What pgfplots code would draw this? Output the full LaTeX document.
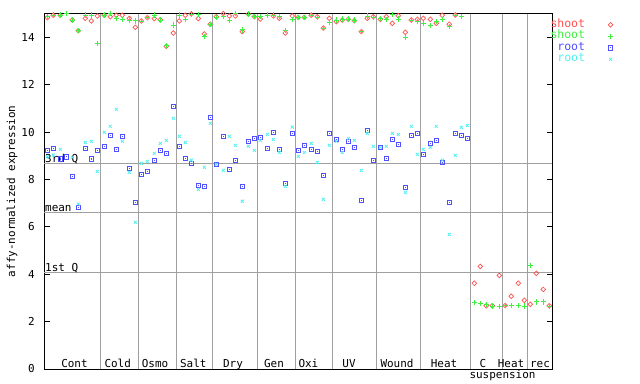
\documentclass[border=0pt]{standalone}
\usepackage{pgfplots}
\pgfplotsset{compat=1.18}
\usepackage{fontspec}
\setmainfont{DejaVu Sans Mono}
\setmonofont{DejaVu Sans Mono}
\definecolor{cRed}{RGB}{255,80,80}
\definecolor{cGreen}{RGB}{64,240,64}
\definecolor{cBlue}{RGB}{80,80,255}
\definecolor{cCyan}{RGB}{80,240,240}
\definecolor{gridgray}{RGB}{160,160,160}
\pgfdeclareplotmark{sqdot}{%
  \pgfpathrectangle{\pgfqpoint{-\pgfplotmarksize}{-\pgfplotmarksize}}{\pgfqpoint{2\pgfplotmarksize}{2\pgfplotmarksize}}%
  \pgfusepathqstroke
  \pgfpathrectangle{\pgfqpoint{-0.6pt}{-0.6pt}}{\pgfqpoint{1.2pt}{1.2pt}}%
  \pgfusepathqfill
}
\pgfplotstableread{
x y
47.3 14.83
53.3 14.93
60.3 14.93
72.3 14.73
78.3 14.28
85.3 14.80
91.3 14.69
97.3 14.90
104.3 14.93
110.3 14.87
116.3 14.93
122.3 14.93
129.3 14.80
135.3 14.42
141.3 14.69
147.3 14.83
154.3 14.79
160.3 14.74
166.3 13.62
173.3 14.18
179.3 14.69
185.3 14.93
191.3 14.99
198.3 14.79
204.3 14.14
210.3 14.55
216.3 14.87
223.3 15.00
229.3 14.90
235.3 14.90
242.3 14.24
248.3 14.98
254.3 14.87
260.3 14.77
273.3 14.90
279.3 14.80
285.3 14.18
292.3 14.90
298.3 14.84
304.3 14.84
311.3 14.93
317.3 14.87
323.3 14.39
329.3 14.80
336.3 14.66
342.3 14.73
348.3 14.76
354.3 14.70
361.3 14.24
367.3 14.80
373.3 14.87
380.3 14.76
386.3 14.87
392.3 14.59
398.3 14.91
405.3 14.21
411.3 14.73
417.3 14.76
423.3 14.80
430.3 14.76
436.3 14.59
442.3 14.93
449.3 14.55
455.3 14.94
474.3 3.62
480.3 4.33
486.3 2.67
492.3 2.67
499.3 3.95
505.3 2.68
511.3 3.07
518.3 3.62
524.3 2.90
530.3 2.73
536.3 4.04
543.3 3.36
549.3 2.67
}\shootA
\pgfplotstableread{
x y
47.3 14.86
53.3 14.94
60.3 14.94
66.3 15.00
72.3 14.73
78.3 14.28
85.3 14.94
91.3 14.94
97.3 13.74
104.3 14.94
110.3 15.00
116.3 14.80
122.3 14.76
129.3 14.73
135.3 14.69
141.3 14.66
147.3 14.83
154.3 14.94
160.3 14.73
166.3 13.65
173.3 14.52
179.3 14.94
185.3 14.76
191.3 14.95
198.3 14.97
204.3 14.04
210.3 14.55
216.3 14.85
223.3 14.90
229.3 14.73
235.3 15.00
242.3 14.31
248.3 14.98
254.3 14.87
260.3 14.87
267.3 14.94
273.3 14.94
279.3 14.87
285.3 14.27
292.3 14.76
298.3 14.84
304.3 14.84
311.3 14.94
317.3 14.84
323.3 14.39
329.3 14.63
336.3 14.73
342.3 14.77
348.3 14.77
354.3 14.73
361.3 14.24
367.3 14.90
373.3 14.83
380.3 14.80
386.3 14.76
392.3 14.97
398.3 14.77
405.3 14.00
411.3 14.73
417.3 14.67
423.3 14.59
430.3 14.49
436.3 14.67
442.3 14.76
449.3 14.45
455.3 14.93
461.3 14.87
474.3 2.81
480.3 2.77
486.3 2.73
492.3 2.66
499.3 2.65
505.3 2.67
511.3 2.68
518.3 2.68
524.3 2.66
530.3 4.37
536.3 2.83
543.3 2.83
549.3 2.66
}\shootB
\pgfplotstableread{
x y
47.3 9.23
53.3 9.31
60.3 8.86
66.3 8.96
72.3 8.13
78.3 6.82
85.3 9.31
91.3 8.86
97.3 9.23
104.3 9.40
110.3 9.86
116.3 9.27
122.3 9.82
129.3 8.47
135.3 7.03
141.3 8.22
147.3 8.34
154.3 8.81
160.3 9.23
166.3 9.10
173.3 11.08
179.3 9.40
185.3 8.89
191.3 8.68
198.3 7.75
204.3 7.71
210.3 10.62
216.3 8.64
223.3 9.82
229.3 8.43
235.3 8.81
242.3 7.71
248.3 9.61
254.3 9.73
260.3 9.77
267.3 9.31
273.3 9.99
279.3 9.27
285.3 7.83
292.3 9.94
298.3 9.23
304.3 9.44
311.3 9.27
317.3 9.19
323.3 8.17
329.3 9.94
336.3 9.69
342.3 9.27
348.3 9.61
354.3 9.35
361.3 7.12
367.3 10.07
373.3 8.81
380.3 9.35
386.3 8.89
392.3 9.69
398.3 9.48
405.3 7.67
411.3 9.86
417.3 9.94
423.3 9.06
430.3 9.52
436.3 9.65
442.3 8.72
449.3 7.03
455.3 9.94
461.3 9.86
467.3 9.73
}\rootA
\pgfplotstableread{
x y
47.3 8.96
53.3 9.03
60.3 9.27
72.3 8.93
78.3 6.96
85.3 9.56
91.3 9.61
97.3 8.34
104.3 9.99
110.3 10.24
116.3 10.96
122.3 9.61
129.3 8.30
135.3 6.19
141.3 8.68
147.3 8.76
154.3 9.10
160.3 9.52
166.3 9.65
173.3 10.58
179.3 9.82
185.3 9.56
191.3 8.81
198.3 7.58
204.3 8.51
210.3 10.37
216.3 8.64
223.3 8.38
229.3 9.82
235.3 9.44
242.3 7.08
248.3 9.40
254.3 9.23
260.3 9.65
267.3 9.90
273.3 9.69
279.3 9.14
285.3 7.71
292.3 10.21
298.3 8.97
304.3 9.14
311.3 9.52
317.3 8.72
323.3 7.16
329.3 9.44
336.3 9.61
342.3 9.14
348.3 9.73
354.3 9.65
361.3 8.38
367.3 9.94
373.3 9.40
380.3 9.35
386.3 9.40
392.3 9.94
398.3 9.90
405.3 7.45
411.3 10.24
417.3 9.06
423.3 9.27
430.3 9.35
436.3 10.24
442.3 8.81
449.3 5.68
455.3 9.02
461.3 10.20
467.3 10.28
}\rootB
\begin{document}
\begin{tikzpicture}[font=\fontsize{11}{13}\selectfont]
\path[use as bounding box] (0,0) rectangle (640bp,384bp);
\begin{axis}[
  at={(44.3bp,15bp)}, anchor=south west,
  scale only axis, width=508bp, height=355.4bp,
  xmin=44.3, xmax=552.3, ymin=0, ymax=15,
  clip=false,
  xtick=\empty, ytick={0,2,...,14},
  ytick pos=both,
  tick align=inside, major tick length=5.5bp,
  tick style={black, line width=0.8bp},
  axis line style={black, line width=0.9bp},
  /pgf/number format/assume math mode=true,
  yticklabel style={font=\fontsize{11}{13}\selectfont, inner sep=0pt, xshift=-9.5bp},
  extra x ticks={100,138.3,176.3,212.8,257.3,295.3,332.3,376.3,420.3,470.3,502.3,527.3},
  extra x tick labels={},
  extra x tick style={grid=major, major tick length=0pt},
  extra y ticks={4.08,6.61,8.68},
  extra y tick labels={},
  extra y tick style={grid=major, major tick length=0pt},
  major grid style={color=gridgray, line width=0.8bp},
  legend style={at={(axis cs:550.5,14.77)}, anchor=north west, draw=none, fill=none,
    inner sep=0pt, outer sep=0pt, column sep=23bp, row sep=0pt,
    nodes={inner sep=0pt, text height=8.2bp, text depth=3.3bp},
    font=\fontsize{11.5}{13}\selectfont},
  legend cell align=right, legend plot pos=right,
]
\addplot[only marks, mark=square, mark size=1.65bp, mark options={rotate=45, cRed, line width=0.7bp}] table {\shootA};
\addlegendentry{\textcolor{cRed}{shoot}}
\addplot[only marks, mark=+, mark size=2.6bp, mark options={cGreen, line width=0.9bp}] table {\shootB};
\addlegendentry{\textcolor{cGreen}{shoot}}
\addplot[only marks, mark=sqdot, mark size=2.2bp, mark options={cBlue, fill=cBlue, line width=0.8bp}] table {\rootA};
\addlegendentry{\textcolor{cBlue}{root}}
\addplot[only marks, mark=x, mark size=2.1bp, mark options={cCyan, line width=0.8bp}] table {\rootB};
\addlegendentry{\textcolor{cCyan}{root}}
\node[anchor=base west, inner sep=0pt] at (axis cs:45,8.68) [yshift=1bp] {3rd Q};
\node[anchor=base west, inner sep=0pt] at (axis cs:45,6.61) [yshift=1bp] {mean};
\node[anchor=base west, inner sep=0pt] at (axis cs:45,4.08) [yshift=1bp] {1st Q};
\node[anchor=base, inner sep=0pt] at (axis cs:74.5,0) [yshift=1.6bp] {Cont};
\node[anchor=base, inner sep=0pt] at (axis cs:117.7,0) [yshift=1.6bp] {Cold};
\node[anchor=base, inner sep=0pt] at (axis cs:155,0) [yshift=1.6bp] {Osmo};
\node[anchor=base, inner sep=0pt] at (axis cs:193.3,0) [yshift=1.6bp] {Salt};
\node[anchor=base, inner sep=0pt] at (axis cs:233,0) [yshift=1.6bp] {Dry};
\node[anchor=base, inner sep=0pt] at (axis cs:274,0) [yshift=1.6bp] {Gen};
\node[anchor=base, inner sep=0pt] at (axis cs:308.4,0) [yshift=1.6bp] {Oxi};
\node[anchor=base, inner sep=0pt] at (axis cs:349,0) [yshift=1.6bp] {UV};
\node[anchor=base, inner sep=0pt] at (axis cs:397,0) [yshift=1.6bp] {Wound};
\node[anchor=base, inner sep=0pt] at (axis cs:444,0) [yshift=1.6bp] {Heat};
\node[anchor=base, inner sep=0pt] at (axis cs:483,0) [yshift=1.6bp] {C};
\node[anchor=base, inner sep=0pt] at (axis cs:511,0) [yshift=1.6bp] {Heat};
\node[anchor=base, inner sep=0pt] at (axis cs:540,0) [yshift=1.6bp] {rec};
\node[anchor=base, inner sep=0pt] at (axis cs:502.5,0) [yshift=-9.8bp] {suspension};
\end{axis}
\node[rotate=90, anchor=center, inner sep=0pt] at (12bp,192.7bp) {affy-normalized expression};
\end{tikzpicture}
\end{document}
